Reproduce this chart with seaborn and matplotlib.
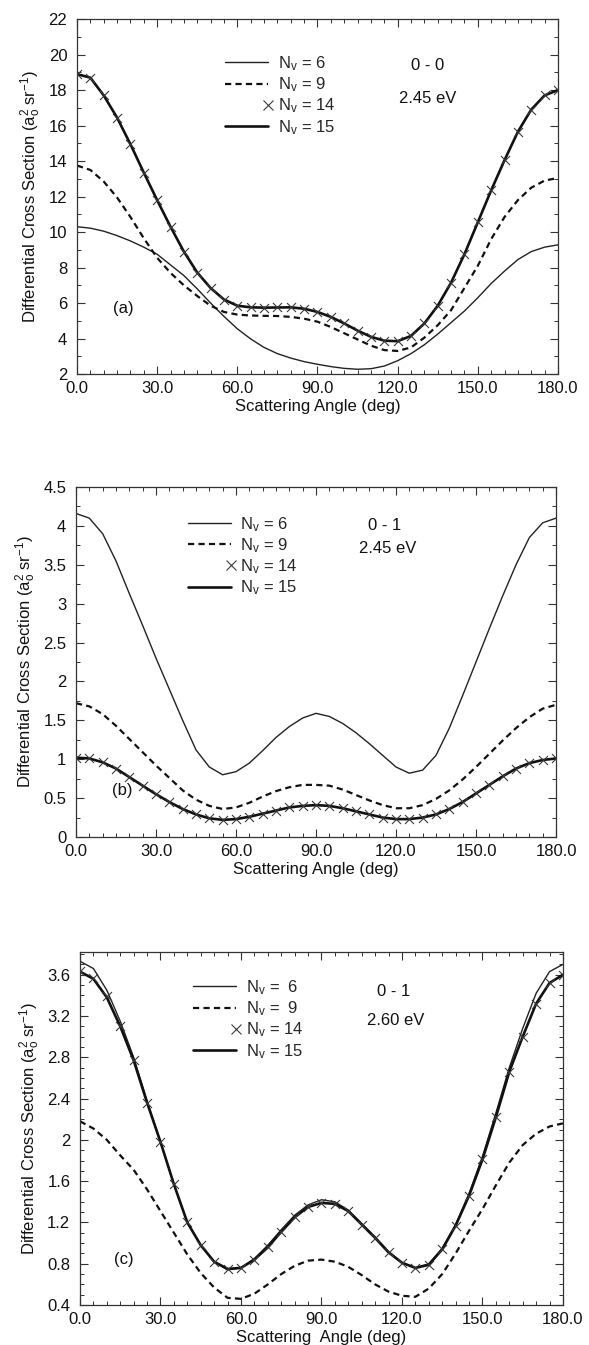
import numpy as np
import pandas as pd
import matplotlib
matplotlib.use("Agg")
import matplotlib.pyplot as plt
from matplotlib.lines import Line2D
from matplotlib.legend_handler import HandlerLine2D
from matplotlib.ticker import MultipleLocator, FormatStrFormatter
import seaborn as sns

# ---------------- data ----------------
angle = [0, 5, 10, 15, 20, 25, 30, 35, 40, 45, 50, 55, 60, 65, 70, 75, 80, 85, 90,
         95, 100, 105, 110, 115, 120, 125, 130, 135, 140, 145, 150, 155, 160, 165, 170, 175, 180]

# panel (a): 0-0, 2.45 eV
a_nv6 = [10.3, 10.22, 10.05, 9.8, 9.5, 9.15, 8.75, 8.15, 7.55, 6.8, 6.0, 5.25, 4.55, 3.98, 3.5,
         3.15, 2.9, 2.7, 2.55, 2.42, 2.32, 2.27, 2.3, 2.45, 2.75, 3.15, 3.65, 4.25, 4.9, 5.55,
         6.3, 7.1, 7.8, 8.45, 8.9, 9.15, 9.28]
a_nv9 = [13.75, 13.5, 12.85, 11.95, 10.85, 9.65, 8.55, 7.7, 7.0, 6.4, 5.85, 5.5, 5.35, 5.3,
         5.28, 5.27, 5.22, 5.12, 4.95, 4.65, 4.3, 3.95, 3.6, 3.35, 3.3, 3.5, 4.05, 4.75, 5.6,
         6.85, 8.1, 9.6, 10.85, 11.8, 12.5, 12.9, 13.05]
a_nv14 = [18.9, 18.7, 17.7, 16.45, 14.95, 13.35, 11.8, 10.3, 8.9, 7.72, 6.85, 6.2, 5.85, 5.76,
          5.74, 5.75, 5.76, 5.68, 5.5, 5.22, 4.85, 4.45, 4.1, 3.88, 3.85, 4.15, 4.85, 5.85,
          7.15, 8.75, 10.55, 12.35, 14.05, 15.65, 16.9, 17.7, 18.0]
a_nv15 = [18.9, 18.7, 17.7, 16.45, 14.95, 13.35, 11.8, 10.3, 8.9, 7.72, 6.85, 6.2, 5.85, 5.76,
          5.74, 5.75, 5.76, 5.68, 5.5, 5.22, 4.85, 4.45, 4.1, 3.88, 3.85, 4.15, 4.85, 5.85,
          7.15, 8.75, 10.55, 12.35, 14.05, 15.65, 16.9, 17.7, 18.0]

# panel (b): 0-1, 2.45 eV
b_nv6 = [4.16, 4.1, 3.9, 3.55, 3.13, 2.72, 2.3, 1.9, 1.5, 1.12, 0.9, 0.8, 0.84, 0.95,
         1.11, 1.28, 1.42, 1.53, 1.59, 1.55, 1.46, 1.34, 1.2, 1.05, 0.9, 0.82, 0.86, 1.05,
         1.4, 1.82, 2.25, 2.68, 3.1, 3.5, 3.85, 4.04, 4.1]
b_nv9 = [1.72, 1.68, 1.58, 1.43, 1.26, 1.09, 0.92, 0.76, 0.6, 0.48, 0.4, 0.36, 0.38, 0.44,
         0.52, 0.59, 0.64, 0.67, 0.67, 0.66, 0.61, 0.54, 0.47, 0.41, 0.37, 0.37, 0.41, 0.49,
         0.6, 0.74, 0.9, 1.07, 1.24, 1.4, 1.54, 1.65, 1.7]
b_nv14 = [1.02, 1.01, 0.96, 0.88, 0.77, 0.66, 0.55, 0.45, 0.36, 0.29, 0.24, 0.22, 0.23, 0.26,
          0.3, 0.34, 0.38, 0.4, 0.41, 0.4, 0.37, 0.33, 0.29, 0.25, 0.23, 0.23, 0.25, 0.29,
          0.36, 0.45, 0.56, 0.67, 0.78, 0.88, 0.95, 0.99, 1.01]
b_nv15 = [1.02, 1.01, 0.96, 0.88, 0.77, 0.66, 0.55, 0.45, 0.36, 0.29, 0.24, 0.22, 0.23, 0.26,
          0.3, 0.34, 0.38, 0.4, 0.41, 0.4, 0.37, 0.33, 0.29, 0.25, 0.23, 0.23, 0.25, 0.29,
          0.36, 0.45, 0.56, 0.67, 0.78, 0.88, 0.95, 0.99, 1.01]

# panel (c): 0-1, 2.60 eV
c_nv6 = [3.73, 3.66, 3.45, 3.15, 2.8, 2.38, 1.98, 1.57, 1.2, 0.98, 0.82, 0.74, 0.76, 0.85,
         0.98, 1.13, 1.27, 1.37, 1.42, 1.4, 1.32, 1.19, 1.06, 0.92, 0.81, 0.76, 0.8, 0.95,
         1.18, 1.48, 1.84, 2.26, 2.7, 3.08, 3.42, 3.63, 3.7]
c_nv9 = [2.18, 2.11, 2.0, 1.85, 1.71, 1.52, 1.31, 1.1, 0.89, 0.71, 0.57, 0.47, 0.46, 0.51,
         0.6, 0.7, 0.78, 0.83, 0.84, 0.82, 0.77, 0.69, 0.6, 0.53, 0.49, 0.48, 0.56, 0.7,
         0.9, 1.12, 1.33, 1.56, 1.78, 1.95, 2.06, 2.13, 2.16]
c_nv14 = [3.64, 3.57, 3.39, 3.1, 2.77, 2.36, 1.98, 1.57, 1.2, 0.98, 0.82, 0.75, 0.76, 0.84,
          0.96, 1.11, 1.25, 1.35, 1.39, 1.38, 1.31, 1.18, 1.05, 0.91, 0.81, 0.76, 0.79, 0.94,
          1.17, 1.46, 1.81, 2.22, 2.66, 3.0, 3.32, 3.52, 3.6]
c_nv15 = [3.63, 3.56, 3.38, 3.1, 2.77, 2.36, 1.98, 1.57, 1.2, 0.98, 0.82, 0.75, 0.76, 0.84,
          0.96, 1.11, 1.25, 1.35, 1.39, 1.38, 1.31, 1.18, 1.05, 0.91, 0.81, 0.76, 0.79, 0.94,
          1.17, 1.46, 1.81, 2.22, 2.66, 3.0, 3.32, 3.52, 3.6]

x_ticks = [0, 30, 60, 90, 120, 150, 180]
legend_labels_ab = ["N$_v$ = 6", "N$_v$ = 9", "N$_v$ = 14", "N$_v$ = 15"]
legend_labels_c = ["N$_v$ =  6", "N$_v$ =  9", "N$_v$ = 14", "N$_v$ = 15"]
ylabel = "Differential Cross Section (a$_o^2$ sr$^{-1}$)"

# ---------------- style ----------------
sns.set_theme(style="ticks")
plt.rcParams["font.family"] = ["Liberation Sans", "DejaVu Sans"]
plt.rcParams["mathtext.default"] = "regular"
plt.rcParams["axes.edgecolor"] = "#333333"
plt.rcParams["axes.linewidth"] = 0.9

FS = 12
INK = "#111111"
MK = "#3a3a3a"

fig = plt.figure(figsize=(5.89, 13.45), dpi=100)

panels = [
    dict(pos=[0.1307, 0.7219, 0.8166, 0.2639], ylim=(2, 22), major=2, minor=1,
         data=(a_nv6, a_nv9, a_nv14, a_nv15), labels=legend_labels_ab,
         leg=(0.308, 0.785), t1=("0 - 0", 0.728, 0.870), t2=("2.45 eV", 0.73, 0.775),
         tag=("(a)", 0.097, 0.185), xlabel="Scattering Angle (deg)"),
    dict(pos=[0.129, 0.3777, 0.815, 0.2602], ylim=(0, 4.5), major=0.5, minor=0.25,
         data=(b_nv6, b_nv9, b_nv14, b_nv15), labels=legend_labels_ab,
         leg=(0.233, 0.803), t1=("0 - 1", 0.644, 0.891), t2=("2.45 eV", 0.65, 0.823),
         tag=("(b)", 0.097, 0.133), xlabel="Scattering Angle (deg)"),
    dict(pos=[0.1358, 0.0297, 0.820, 0.2625], ylim=(0.4, 3.82), major=0.4, minor=0.1,
         data=(c_nv6, c_nv9, c_nv14, c_nv15), labels=legend_labels_c,
         leg=(0.234, 0.809), t1=("0 - 1", 0.650, 0.887), t2=("2.60 eV", 0.654, 0.807),
         tag=("(c)", 0.091, 0.13), xlabel="Scattering  Angle (deg)"),
]


class RightMarkerHandler(HandlerLine2D):
    def create_artists(self, legend, orig_handle, xdescent, ydescent, width, height,
                       fontsize, trans):
        arts = super().create_artists(legend, orig_handle, xdescent, ydescent, width,
                                      height, fontsize, trans)
        for a in arts:
            xd = a.get_xdata()
            if len(xd) > 0:
                a.set_markevery([len(xd) - 1])
        return arts


for p in panels:
    ax = fig.add_axes(p["pos"])
    nv6, nv9, nv14, nv15 = p["data"]
    df = pd.DataFrame({"angle": angle, "nv6": nv6, "nv9": nv9, "nv14": nv14, "nv15": nv15})

    sns.lineplot(data=df, x="angle", y="nv6", ax=ax, color="#222222", linewidth=1.0,
                 errorbar=None, sort=False)
    sns.lineplot(data=df, x="angle", y="nv9", ax=ax, color=INK, linewidth=1.6,
                 linestyle=(0, (2.8, 1.9)), errorbar=None, sort=False)
    sns.lineplot(data=df, x="angle", y="nv15", ax=ax, color=INK, linewidth=1.9,
                 errorbar=None, sort=False)
    sns.scatterplot(data=df, x="angle", y="nv14", ax=ax, marker="x", s=42, color=MK,
                    linewidth=0.8, zorder=5)

    ax.set_xlim(0, 180)
    ax.set_ylim(*p["ylim"])
    ax.set_xticks(x_ticks)
    ax.xaxis.set_major_formatter(FormatStrFormatter("%.1f"))
    ax.xaxis.set_minor_locator(MultipleLocator(5))
    ax.yaxis.set_major_locator(MultipleLocator(p["major"]))
    ax.yaxis.set_minor_locator(MultipleLocator(p["minor"]))
    ax.yaxis.set_major_formatter(FormatStrFormatter("%g"))
    ax.tick_params(which="both", direction="in", top=True, right=True,
                   color="#333333", labelsize=FS, labelcolor=INK)
    ax.tick_params(which="major", length=6, width=0.8)
    ax.tick_params(which="minor", length=3, width=0.7)
    ax.tick_params(axis="y", pad=7)
    ax.tick_params(axis="x", pad=5)
    ax.set_xlabel(p["xlabel"], fontsize=FS, color=INK, labelpad=2)
    ax.set_ylabel(ylabel, fontsize=FS, color=INK, labelpad=4)
    ax.grid(False)

    handles = [
        Line2D([], [], color="#222222", linewidth=1.0),
        Line2D([], [], color=INK, linewidth=1.6, linestyle=(0, (2.8, 1.9))),
        Line2D([], [], color=MK, linestyle="none", marker="x", markersize=7,
               markeredgewidth=0.8),
        Line2D([], [], color=INK, linewidth=1.9),
    ]
    hm = {handles[2]: RightMarkerHandler()}
    ax.legend(handles, p["labels"], loc="center left", bbox_to_anchor=p["leg"],
              frameon=False, fontsize=FS, handlelength=2.6, handletextpad=0.55,
              labelspacing=0.15, borderpad=0, borderaxespad=0, numpoints=1,
              handler_map=hm)

    t1, x1, y1 = p["t1"]
    t2, x2, y2 = p["t2"]
    ax.text(x1, y1, t1, transform=ax.transAxes, ha="center", va="center", fontsize=FS, color=INK)
    ax.text(x2, y2, t2, transform=ax.transAxes, ha="center", va="center", fontsize=FS, color=INK)
    tg, xt, yt = p["tag"]
    ax.text(xt, yt, tg, transform=ax.transAxes, ha="center", va="center", fontsize=FS, color=INK)

fig.savefig("out.png", dpi=100)
